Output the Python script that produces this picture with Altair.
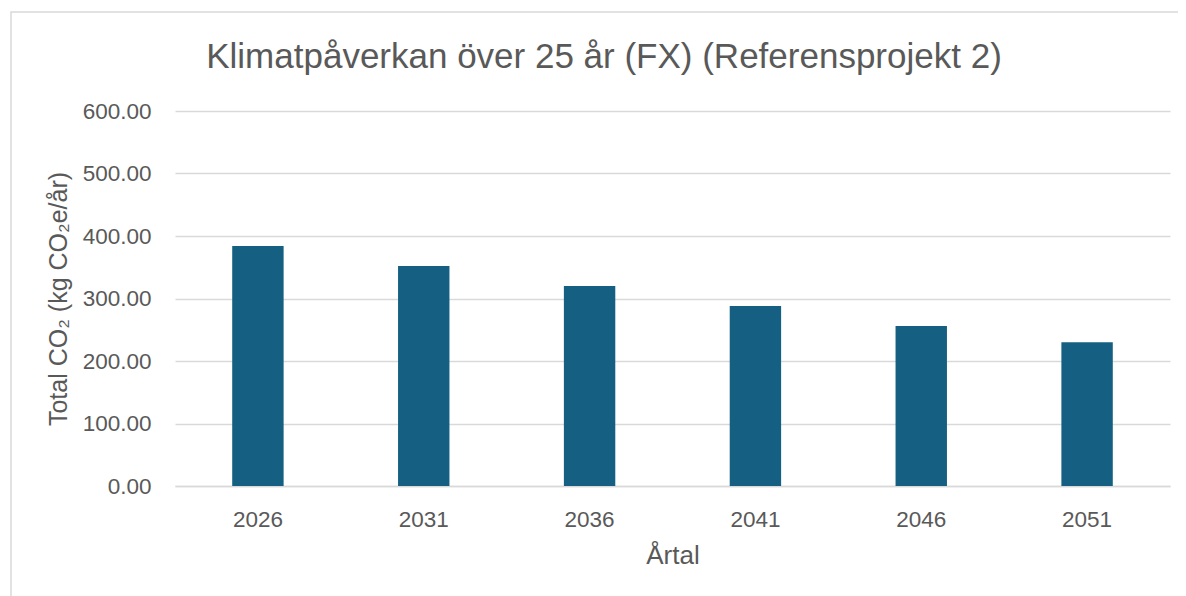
import altair as alt
import pandas as pd

years = ["2026", "2031", "2036", "2041", "2046", "2051"]
values = [384, 352, 320, 288, 256, 230]
y_ticks = [0, 100, 200, 300, 400, 500, 600]
title_text = "Klimatpåverkan över 25 år (FX) (Referensprojekt 2)"

df = pd.DataFrame({"year": years, "value": values})

FONT = "Liberation Sans"
GRAY = "#595959"

bars = alt.Chart(df).mark_bar(color="#156082").encode(
    x=alt.X("year:N", sort=years, title="Årtal",
            scale=alt.Scale(paddingInner=0.69, paddingOuter=0.345),
            axis=alt.Axis(labelAngle=0, labelFontSize=22.5, labelColor=GRAY, labelFont=FONT,
                          titleFontSize=26, titleColor=GRAY, titleFont=FONT, titleFontWeight="normal",
                          titlePadding=12, labelPadding=22, ticks=False,
                          domainColor="#d9d9d9", domainWidth=1.5)),
    y=alt.Y("value:Q", title="Total CO₂ (kg CO₂e/år)",
            scale=alt.Scale(domain=[0, 600], nice=False),
            axis=alt.Axis(values=y_ticks, format=".2f", labelFontSize=22.5, labelColor=GRAY,
                          labelFont=FONT, titleFontSize=25, titleColor=GRAY, titleFont=FONT,
                          titleFontWeight="normal", titlePadding=11, labelPadding=24,
                          ticks=False, domain=False, gridColor="#d9d9d9", gridWidth=1.5)),
)

title = alt.Chart(alt.Data(values=[{"t": title_text}])).mark_text(
    font=FONT, fontSize=35, color=GRAY, align="center", baseline="middle"
).encode(
    x=alt.value(429), y=alt.value(-54), text="t:N"
)

border = alt.Chart(alt.Data(values=[{}])).mark_rect(
    fill="transparent", stroke="#d9d9d9", strokeWidth=1.5
).encode(
    x=alt.value(-164), x2=alt.value(1100), y=alt.value(-99), y2=alt.value(600)
)

chart = alt.layer(bars, title, border).properties(
    width=995, height=375,
    autosize=alt.AutoSizeParams(type="none"),
    padding={"left": 167, "top": 103, "right": 8, "bottom": 120},
).configure_view(stroke=None)

chart.save("out.html", embed_options={"renderer": "svg", "actions": False})
